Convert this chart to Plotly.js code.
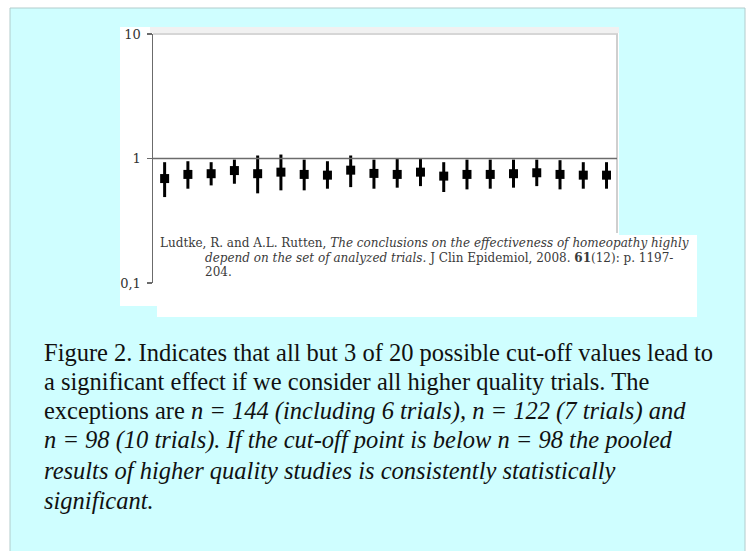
<!DOCTYPE html>
<html>
<head>
<meta charset="utf-8">
<script src="https://cdn.plot.ly/plotly-3.0.1.min.js"></script>
<style>
  html, body { margin: 0; padding: 0; background: #ffffff; }
  #chart { width: 750px; height: 551px; }
</style>
</head>
<body>
<div id="chart"></div>
<script>
// Pooled odds ratios (with 95% CI) for 20 successive cut-off values
const cutoffIndex = [1, 2, 3, 4, 5, 6, 7, 8, 9, 10, 11, 12, 13, 14, 15, 16, 17, 18, 19, 20];
const oddsRatio = [0.69, 0.745, 0.755, 0.80, 0.755, 0.777, 0.745, 0.735, 0.806, 0.759,
                   0.745, 0.777, 0.722, 0.745, 0.745, 0.755, 0.768, 0.745, 0.735, 0.735];
const ciUpper = [0.934, 0.951, 0.934, 0.98, 1.057, 1.076, 0.98, 0.951, 1.057, 0.98,
                 0.99, 0.99, 0.934, 0.98, 0.98, 0.98, 0.98, 0.969, 0.934, 0.934];
const ciLower = [0.490, 0.572, 0.608, 0.627, 0.525, 0.555, 0.555, 0.572, 0.589, 0.572,
                 0.583, 0.600, 0.538, 0.565, 0.572, 0.583, 0.600, 0.565, 0.572, 0.572];
const yTickValues = [0.1, 1, 10];

const citationLines = [
  "Ludtke, R. and A.L. Rutten, <i>The conclusions on the effectiveness of homeopathy highly</i>",
  "<i>depend on the set of analyzed trials.</i> J Clin Epidemiol, 2008. <b>61</b>(12): p. 1197-",
  "204."
];
const captionLines = [
  "Figure 2. Indicates that all but 3 of 20 possible cut-off values lead to",
  "a significant effect if we consider all higher quality trials. The",
  "exceptions are <i>n = 144 (including 6 trials), n = 122 (7 trials) and</i>",
  "<i>n = 98 (10 trials). If the cut-off point is below n = 98 the pooled</i>",
  "<i>results of higher quality studies is consistently statistically</i>",
  "<i>significant.</i>"
];

// Page geometry (pixels) of the plotting area
const W = 750, H = 551;
const PL = 153, PR = 617, PT = 34, PB = 283;
const px = x => (x - PL) / (PR - PL);
const py = y => (PB - y) / (PB - PT);

const errPlus = ciUpper.map((u, i) => u - oddsRatio[i]);
const errMinus = ciLower.map((l, i) => oddsRatio[i] - l);

const trace = {
  type: 'scatter',
  mode: 'markers',
  x: cutoffIndex,
  y: oddsRatio,
  marker: { symbol: 'square', size: 9, color: '#000000' },
  error_y: {
    type: 'data', symmetric: false,
    array: errPlus, arrayminus: errMinus,
    color: '#000000', thickness: 3, width: 0
  },
  hoverinfo: 'x+y',
  showlegend: false,
  cliponaxis: false
};

function rect(x0, y0, x1, y1, fill, lineColor, lineWidth) {
  return {
    type: 'rect', xref: 'paper', yref: 'paper', layer: 'below',
    x0: px(x0), x1: px(x1), y0: py(y1), y1: py(y0),
    fillcolor: fill,
    line: { color: lineColor || 'rgba(0,0,0,0)', width: lineWidth || 0 }
  };
}
function hline(x0, x1, y, color, width) {
  return { type: 'line', xref: 'paper', yref: 'paper', layer: 'below',
           x0: px(x0), x1: px(x1), y0: py(y), y1: py(y),
           line: { color: color, width: width } };
}
function vline(x, y0, y1, color, width) {
  return { type: 'line', xref: 'paper', yref: 'paper', layer: 'below',
           x0: px(x), x1: px(x), y0: py(y0), y1: py(y1),
           line: { color: color, width: width } };
}

const shapes = [
  // slide panel
  rect(10, 8, 745, 560, '#cffeff', '#b2cccc', 1),
  // chart picture and citation box
  rect(120, 27, 619, 306, '#ffffff'),
  rect(150, 27, 619, 33, '#f1f1f1'),
  rect(157, 235, 697, 317, '#ffffff'),
  // frame of the plotting area
  hline(153, 618, 34, '#d6d6d6', 2),
  vline(617, 34, 233, '#cfcfcf', 2),
  // reference line at OR = 1
  { type: 'line', xref: 'paper', yref: 'y', layer: 'above',
    x0: 0, x1: 1, y0: 1, y1: 1, line: { color: '#6b6b6b', width: 1.5 } }
];

const annotations = [];
const citeX = [158, 203, 203];
const citeY = [243, 257.5, 272];
citationLines.forEach((t, i) => annotations.push({
  text: t, xref: 'paper', yref: 'paper', x: px(citeX[i]), y: py(citeY[i]),
  xanchor: 'left', yanchor: 'middle', showarrow: false,
  font: { family: 'DejaVu Serif', size: 12, color: '#3a3a3a' }
}));
const capY = [352, 381, 411, 440, 470, 500];
captionLines.forEach((t, i) => annotations.push({
  text: t, xref: 'paper', yref: 'paper', x: px(42), y: py(capY[i]),
  xanchor: 'left', yanchor: 'middle', showarrow: false,
  font: { family: 'Liberation Serif', size: 24.5, color: '#111111' }
}));

const layout = {
  width: W, height: H,
  margin: { l: PL, r: W - PR, t: PT, b: H - PB, pad: 0 },
  paper_bgcolor: '#ffffff',
  plot_bgcolor: 'rgba(0,0,0,0)',
  separators: ',.',
  showlegend: false,
  xaxis: {
    range: [0.5, 20.45], showgrid: false, zeroline: false,
    showline: false, showticklabels: false, ticks: '', fixedrange: true
  },
  yaxis: {
    type: 'log', range: [-1, 1],
    tickvals: yTickValues, tickformat: '~g',
    ticks: 'outside', ticklen: 5, tickwidth: 1.5, tickcolor: '#6b6b6b',
    showline: true, linecolor: '#6b6b6b', linewidth: 1.5,
    showgrid: false, zeroline: false,
    tickfont: { family: 'DejaVu Serif', size: 13, color: '#333333' },
    ticklabelstandoff: 3, fixedrange: true
  },
  yaxis2: {
    type: 'log', range: [-1, 1], overlaying: 'y', side: 'left',
    tickvals: yTickValues, showticklabels: false,
    ticks: 'inside', ticklen: 4, tickwidth: 1.5, tickcolor: '#6b6b6b',
    showline: false, showgrid: false, zeroline: false, fixedrange: true
  },
  shapes: shapes,
  annotations: annotations
};

Plotly.newPlot('chart', [trace], layout, { displayModeBar: false, staticPlot: true });
</script>
</body>
</html>
